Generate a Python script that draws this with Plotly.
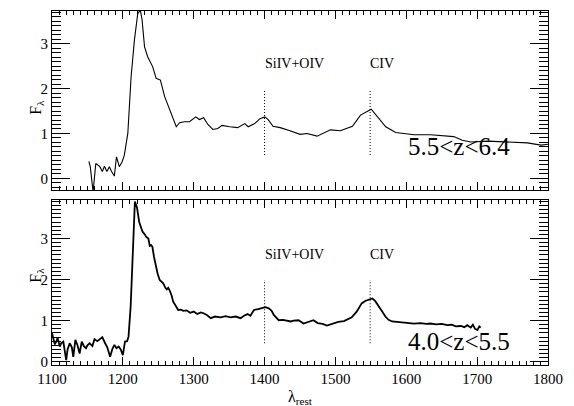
import plotly.graph_objects as go

# Top panel: 5.5<z<6.4 composite
top_wave = [1152, 1154, 1158, 1161.8, 1167.5, 1171, 1174, 1177.5, 1181, 1184, 1188, 1191, 1195, 1199,
            1202, 1207, 1211.6, 1216.3, 1221, 1224.6, 1227, 1230.6, 1235, 1242, 1247, 1253, 1259, 1266,
            1270.6, 1275.4, 1280, 1287, 1294, 1303, 1308, 1314, 1320, 1327, 1334, 1340, 1351, 1362,
            1372, 1377, 1386, 1393.5, 1400.5, 1405, 1412, 1422, 1436, 1450, 1460, 1474, 1493, 1507,
            1524, 1535.4, 1550.5, 1559, 1571, 1585, 1611, 1634.5, 1667, 1679, 1691, 1715, 1743, 1771,
            1790, 1800]
top_flux = [0.38, 0.26, -0.3, 0.33, 0.26, 0.15, 0.27, 0.15, 0.26, 0.15, 0.05, 0.48, 0.26, 0.37,
            0.51, 1.0, 2.26, 3.08, 3.67, 3.75, 3.55, 2.93, 2.71, 2.49, 2.23, 2.19, 1.82, 1.52,
            1.37, 1.15, 1.24, 1.26, 1.26, 1.37, 1.31, 1.35, 1.2, 1.09, 1.11, 1.18, 1.15, 1.13,
            1.22, 1.15, 1.22, 1.33, 1.37, 1.31, 1.16, 1.13, 1.06, 0.98, 1.0, 0.94, 1.08, 1.06,
            1.16, 1.41, 1.54, 1.37, 1.15, 1.02, 0.97, 0.97, 0.93, 0.85, 0.81, 0.83, 0.81, 0.79,
            0.74, 0.76]

# Bottom panel: 4.0<z<5.5 composite
bot_wave = [1100, 1101.4, 1104, 1106, 1108, 1111, 1113, 1116, 1118, 1120, 1122, 1125, 1128, 1130, 1133,
            1136, 1139, 1142, 1145, 1148, 1150, 1153, 1157, 1160, 1164, 1168, 1171, 1175, 1178, 1182,
            1185, 1188, 1191, 1194, 1197, 1200, 1203, 1206, 1208, 1211, 1214, 1217, 1220, 1223, 1226,
            1228, 1231, 1233, 1236, 1238, 1240, 1241.7, 1244, 1246, 1249, 1252, 1255, 1257, 1260, 1262,
            1264, 1266, 1269, 1271, 1275, 1278, 1282, 1285, 1290, 1295, 1300, 1305, 1310, 1314, 1319,
            1324, 1330, 1338, 1345, 1352, 1359, 1366, 1371, 1376, 1380, 1385, 1391, 1397, 1401, 1406,
            1410, 1413, 1417, 1420, 1426, 1432, 1437, 1441, 1448, 1455, 1462, 1469, 1475, 1482, 1488,
            1496, 1504, 1512, 1518, 1523, 1530, 1537, 1542, 1547, 1552, 1556, 1561, 1566, 1570.5, 1575,
            1580, 1585, 1592, 1600, 1611, 1620, 1628, 1634, 1642, 1650, 1658, 1664, 1670, 1677, 1682,
            1686, 1691, 1694, 1697, 1700.5, 1703, 1705]
bot_flux = [0.7, 0.61, 0.42, 0.49, 0.58, 0.37, 0.45, 0.49, 0.2, 0.04, 0.3, 0.45, 0.35, 0.12, 0.53,
            0.4, 0.2, 0.49, 0.38, 0.33, 0.4, 0.45, 0.38, 0.55, 0.5, 0.57, 0.6, 0.45, 0.35, 0.12,
            0.3, 0.41, 0.33, 0.37, 0.3, 0.16, 0.49, 0.5, 0.61, 1.34, 2.55, 3.9, 3.75, 3.41, 3.25,
            3.16, 3.1, 3.04, 3.0, 2.82, 2.84, 2.8, 2.55, 2.35, 2.15, 1.99, 1.95, 1.91, 1.8, 1.76,
            1.8, 1.74, 1.6, 1.46, 1.35, 1.26, 1.27, 1.24, 1.25, 1.19, 1.22, 1.16, 1.2, 1.18, 1.13,
            1.06, 1.1, 1.08, 1.11, 1.08, 1.1, 1.06, 1.12, 1.16, 1.12, 1.26, 1.28, 1.32, 1.33, 1.30,
            1.24, 1.14, 1.07, 1.01, 1.02, 1.0, 0.98, 1.0, 1.01, 0.93, 0.97, 1.01, 0.94, 0.92, 0.88,
            0.93, 0.97, 0.99, 1.03, 1.08, 1.22, 1.42, 1.48, 1.52, 1.54, 1.48, 1.36, 1.22, 1.1, 1.02,
            0.98, 0.97, 0.96, 0.95, 0.93, 0.94, 0.92, 0.93, 0.91, 0.92, 0.89, 0.9, 0.86, 0.87, 0.84,
            0.89, 0.83, 0.9, 0.8, 0.77, 0.86, 0.83]

line_wave = [1400, 1549]
line_names = ["SiIV+OIV", "CIV"]
x_tick_start, x_tick_step = 1100, 100
y_tick_start, y_tick_step = 0, 1
panel_labels = ["5.5<z<6.4", "4.0<z<5.5"]

FONT = "Liberation Serif"

fig = go.Figure()
fig.add_trace(go.Scatter(x=top_wave, y=top_flux, mode="lines",
                         line=dict(color="black", width=1.1), xaxis="x", yaxis="y", showlegend=False))
fig.add_trace(go.Scatter(x=bot_wave, y=bot_flux, mode="lines",
                         line=dict(color="black", width=1.8), xaxis="x2", yaxis="y2", showlegend=False))

# dotted line markers
for w in line_wave:
    fig.add_trace(go.Scatter(x=[w, w], y=[0.52, 1.95], mode="lines",
                             line=dict(color="black", width=1, dash="1px,2px"),
                             xaxis="x", yaxis="y", showlegend=False))
    fig.add_trace(go.Scatter(x=[w, w], y=[0.45, 1.99], mode="lines",
                             line=dict(color="black", width=1, dash="1px,2px"),
                             xaxis="x2", yaxis="y2", showlegend=False))

annotations = []
for w, name in zip(line_wave, line_names):
    annotations.append(dict(x=w, y=2.56, xref="x", yref="y", text=name, showarrow=False,
                            xanchor="left", yanchor="middle", xshift=-2,
                            font=dict(family=FONT, size=14, color="black")))
    annotations.append(dict(x=w, y=2.6, xref="x2", yref="y2", text=name, showarrow=False,
                            xanchor="left", yanchor="middle", xshift=-2,
                            font=dict(family=FONT, size=14, color="black")))
annotations.append(dict(x=1603, y=0.70, xref="x", yref="y", text=panel_labels[0], showarrow=False,
                        xanchor="left", yanchor="middle", xshift=-2,
                        font=dict(family=FONT, size=25, color="black")))
annotations.append(dict(x=1603, y=0.49, xref="x2", yref="y2", text=panel_labels[1], showarrow=False,
                        xanchor="left", yanchor="middle", xshift=-2,
                        font=dict(family=FONT, size=25, color="black")))
# axis titles
annotations.append(dict(x=-0.055, y=0.754, xref="paper", yref="paper", text="F<sub>λ</sub>",
                        showarrow=False, textangle=-90, font=dict(family=FONT, size=16, color="black")))
annotations.append(dict(x=-0.055, y=0.226, xref="paper", yref="paper", text="F<sub>λ</sub>",
                        showarrow=False, textangle=-90, font=dict(family=FONT, size=16, color="black")))
annotations.append(dict(x=0.5, y=-0.088, xref="paper", yref="paper", text="λ<sub>rest</sub>",
                        showarrow=False, yshift=-13, font=dict(family=FONT, size=16, color="black")))


def xaxis_style():
    return dict(range=[1100, 1800], tickmode="linear", tick0=x_tick_start, dtick=x_tick_step,
                ticks="inside", ticklen=8, tickwidth=1,
                tickcolor="black", showline=True, linecolor="black", linewidth=1, mirror="allticks",
                showgrid=False, zeroline=False,
                minor=dict(dtick=10, ticks="inside", ticklen=4, tickcolor="black", tickwidth=1,
                           showgrid=False),
                tickfont=dict(family=FONT, size=15, color="black"))


def yaxis_style():
    return dict(tickmode="linear", tick0=y_tick_start, dtick=y_tick_step,
                ticks="inside", ticklen=18, tickwidth=1,
                tickcolor="black", showline=True, linecolor="black", linewidth=1, mirror="allticks",
                showgrid=False, zeroline=False,
                minor=dict(dtick=0.1, ticks="inside", ticklen=9, tickcolor="black", tickwidth=1,
                           showgrid=False),
                tickfont=dict(family=FONT, size=15, color="black"))


fig.update_layout(
    width=574, height=406,
    margin=dict(l=52, r=26, t=11, b=41),
    paper_bgcolor="white", plot_bgcolor="white",
    xaxis=dict(**xaxis_style(), domain=[0, 1], anchor="y", showticklabels=False),
    yaxis=dict(**yaxis_style(), domain=[0.4944, 1], range=[-0.26, 3.73], anchor="x"),
    xaxis2=dict(**xaxis_style(), domain=[0, 1], anchor="y2"),
    yaxis2=dict(**yaxis_style(), domain=[0, 0.4675], range=[-0.08, 3.95], anchor="x2"),
    annotations=annotations,
)

fig.write_html("out.html", config={"displayModeBar": False},
               post_script="document.body.style.margin='0px';")
